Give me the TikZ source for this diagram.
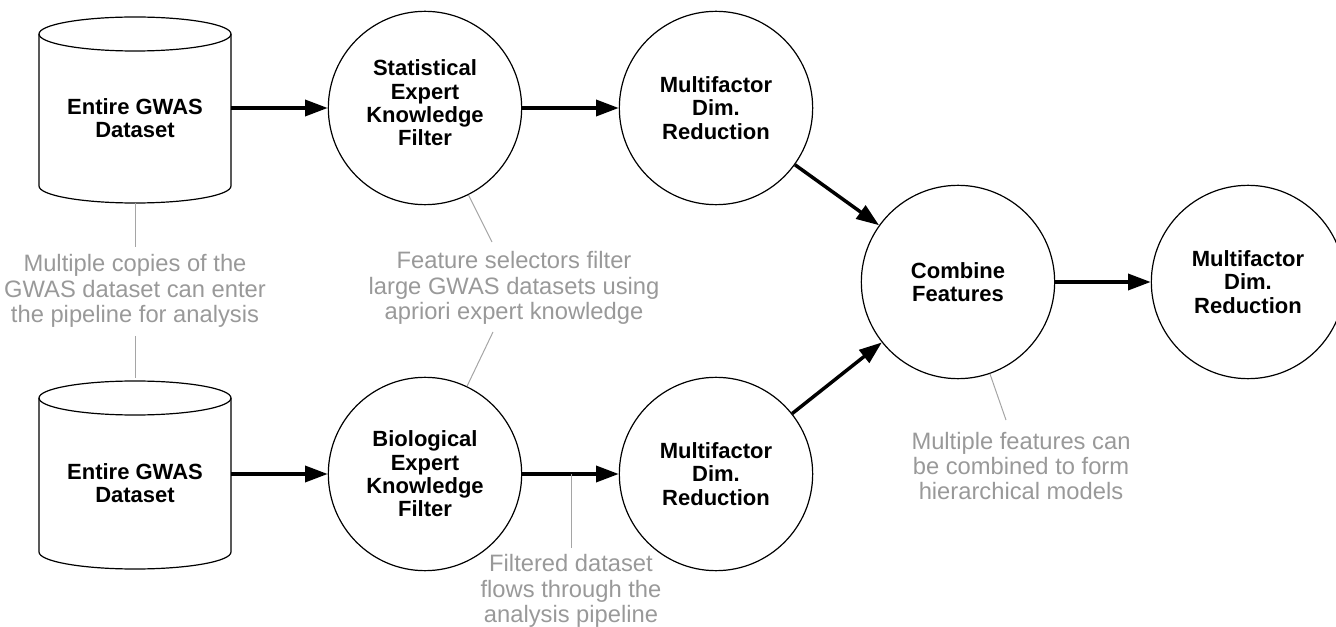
\documentclass[tikz,border=0pt]{standalone}
\usepackage{fontspec}
\setmainfont{Liberation Sans}
\usetikzlibrary{arrows.meta}
\definecolor{anncol}{RGB}{153,153,153}
\definecolor{annline}{RGB}{165,165,165}
\begin{document}
\begin{tikzpicture}[x=0.75pt,y=-0.75pt,
  proc/.style={circle, draw, line width=0.9pt, fill=white, minimum size=145pt, inner sep=0pt,
    font=\fontsize{16.5}{17.5}\selectfont\bfseries, align=center},
  cyltext/.style={minimum width=144pt, inner sep=0pt,
    font=\fontsize{16.5}{17.5}\selectfont\bfseries, align=center},
  cylline/.style={line width=0.9pt},
  flow/.style={line width=2.6pt, -{Triangle[length=17pt,width=12pt]}},
  ann/.style={text=anncol, font=\fontsize{17.8}{19}\selectfont, align=center, inner sep=0pt},
  annl/.style={draw=annline, line width=0.75pt}]
\useasboundingbox (0,0) rectangle (1336,627);

% cylinders
\draw[cylline] (39,34) -- (39,186) arc[start angle=180, end angle=0, x radius=96, y radius=17] -- (231,34);
\draw[cylline] (135,34) ellipse[x radius=96, y radius=17];
\draw[cylline] (39,398) -- (39,552) arc[start angle=180, end angle=0, x radius=96, y radius=17] -- (231,398);
\draw[cylline] (135,398) ellipse[x radius=96, y radius=17];
\node[cyltext] (cyl1) at (135,118) {Entire GWAS\\Dataset};
\node[cyltext] (cyl2) at (135,483) {Entire GWAS\\Dataset};
\coordinate (cyl1b) at (135,203);
\coordinate (cyl2t) at (135,378);

% process circles
\node[proc] (stat) at (425,108) {};
\node[cyltext] (statt) at (425,103) {Statistical\\Expert\\Knowledge\\Filter};
\node[proc] (mdr1) at (716,108) {Multifactor\\Dim.\\Reduction};
\node[proc] (bio) at (425,474) {Biological\\Expert\\Knowledge\\Filter};
\node[proc] (mdr2) at (716,474) {Multifactor\\Dim.\\Reduction};
\node[proc] (comb) at (958,282) {Combine\\Features};
\node[proc] (mdr3) at (1248,282) {Multifactor\\Dim.\\Reduction};

% flow arrows
\draw[flow] (cyl1.east |- stat.west) -- (stat.west);
\draw[flow] (cyl2.east |- bio.west) -- (bio.west);
\draw[flow] (stat) -- (mdr1);
\draw[flow] (bio) -- (mdr2);
\draw[flow] (mdr1) -- (comb);
\draw[flow] (mdr2) -- (comb);
\draw[flow] (comb) -- (mdr3);

% annotations
\node[ann] (a1) at (135,291) {Multiple copies of the\\GWAS dataset can enter\\the pipeline for analysis};
\node[ann] (a2) at (514,288) {Feature selectors filter\\large GWAS datasets using\\apriori expert knowledge};
\node[ann] (a3) at (571,591) {Filtered dataset\\flows through the\\analysis pipeline};
\node[ann] (a4) at (1021,466) {Multiple features can\\be combined to form\\hierarchical models};

\coordinate (a1n) at (135,247);
\coordinate (a1s) at (135,336);
\coordinate (a2n) at (492,242);
\coordinate (a2s) at (493,332);
\coordinate (a3n) at (571,548);
\coordinate (a4n) at (1006,420);

\draw[annl] (cyl1b) -- (a1n);
\draw[annl] (a1s) -- (cyl2t);
\draw[annl] (a2n) -- (stat);
\draw[annl] (a2s) -- (bio);
\draw[annl] (a3n) -- (a3n |- bio.east);
\draw[annl] (a4n) -- (comb);
\end{tikzpicture}
\end{document}
